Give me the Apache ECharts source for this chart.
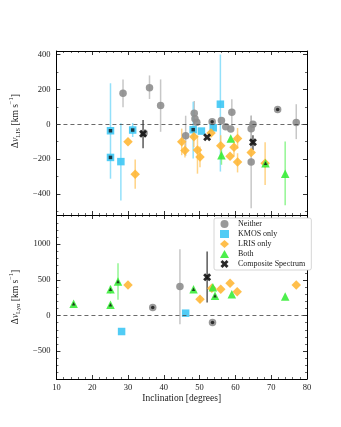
<!DOCTYPE html>
<html>
<head>
<meta charset="utf-8">
<script src="https://cdn.jsdelivr.net/npm/echarts@6/dist/echarts.min.js"></script>
<style>
  html, body { margin: 0; padding: 0; background: #fff; }
  #chart { width: 341px; height: 427px; }
</style>
</head>
<body>
<div id="chart"></div>
<script>
// each point: [inclination, dv, error down, error up, inner dot]
const topNeither = [
    [28.6, 178, 80, 78, 0], [36.0, 210, 65, 70, 0], [39.1, 107, 150, 150, 0],
    [34.5, -50, 0, 0, 0], [46.1, -66, 115, 115, 0], [48.5, 63, 70, 70, 0],
    [48.7, 31, 0, 0, 0], [49.2, 11, 0, 0, 0], [53.5, 15, 0, 0, 1],
    [56.1, 22, 0, 0, 0], [57.3, -14, 0, 0, 0], [58.7, -27, 0, 0, 0],
    [59.0, 69, 80, 75, 0], [64.9, 0, 0, 0, 0], [64.4, -25, 75, 75, 0],
    [64.4, -216, 265, 265, 0], [71.8, 84, 0, 0, 1], [77.0, 10, 95, 105, 0]
];
const topKmos = [
    [25.1, -37, 275, 272, 1], [25.1, -190, 0, 0, 1], [28.0, -214, 223, 220, 0],
    [31.3, -33, 40, 40, 1], [48.2, -31, 165, 160, 1], [50.5, -39, 0, 0, 0],
    [53.8, -20, 15, 15, 0], [55.8, 115, 386, 285, 0]
];
const topLris = [
    [30.0, -100, 0, 0, 0], [32.0, -287, 82, 85, 0], [45.0, -100, 77, 75, 0],
    [45.9, -150, 40, 40, 0], [48.4, -71, 60, 60, 0], [49.4, -148, 135, 85, 0],
    [50.1, -187, 60, 60, 0], [53.2, -50, 0, 0, 0], [55.9, -123, 70, 60, 0],
    [58.5, -183, 0, 0, 0], [59.6, -132, 50, 50, 0], [60.6, -81, 60, 60, 0],
    [60.6, -216, 60, 50, 0], [64.4, -162, 0, 0, 0], [68.3, -223, 125, 120, 0]
];
const topBoth = [
    [56.1, -177, 55, 40, 0], [58.7, -81, 0, 0, 0], [68.4, -223, 0, 0, 1],
    [73.9, -284, 180, 185, 0]
];
const topComp = [
    [34.2, -55, 83, 80, 0], [52.1, -75, 0, 0, 0], [64.9, -103, 45, 40, 0]
];

const botNeither = [
    [36.9, 112, 0, 0, 1], [44.5, 407, 528, 523, 0], [53.6, -98, 0, 0, 1]
];
const botKmos = [
    [28.2, -224, 0, 0, 0], [46.1, 33, 0, 0, 0]
];
const botLris = [
    [30.0, 430, 0, 0, 0], [50.1, 229, 50, 50, 0], [53.4, 383, 0, 0, 0],
    [55.9, 369, 0, 0, 0], [58.5, 453, 0, 0, 0], [60.5, 332, 0, 0, 0],
    [77.0, 430, 0, 0, 0]
];
const botBoth = [
    [14.8, 164, 0, 0, 1], [25.1, 369, 60, 50, 1], [25.1, 150, 0, 0, 1],
    [27.2, 477, 257, 257, 1], [48.3, 369, 0, 0, 1], [53.7, 397, 0, 0, 0],
    [54.3, 276, 0, 0, 1], [59.0, 299, 0, 0, 0], [73.9, 266, 0, 0, 0]
];
const botComp = [
    [52.1, 537, 355, 360, 0]
];

const xTicks = [10, 20, 30, 40, 50, 60, 70, 80];
const xMinor = [12, 14, 16, 18, 22, 24, 26, 28, 32, 34, 36, 38, 42, 44, 46, 48,
    52, 54, 56, 58, 62, 64, 66, 68, 72, 74, 76, 78];
const topTicks = [-400, -200, 0, 200, 400];
const topMinor = [-500, -300, -100, 100, 300];
const botTicks = [-500, 0, 500, 1000];
const botMinor = [-800, -700, -600, -400, -300, -200, -100, 100, 200, 300, 400,
    600, 700, 800, 900, 1100, 1200, 1300, 1400];

const FONT = 'Liberation Serif';
const XPATH = 'path://M0,2.5L2.5,0L5,2.5L7.5,0L10,2.5L7.5,5L10,7.5L7.5,10L5,7.5L2.5,10L0,7.5L2.5,5Z';

const groups = [
    { name: 'Neither', symbol: 'circle', size: 7.5, color: '#8e8e8e', err: '#b4b4b4' },
    { name: 'KMOS only', symbol: 'rect', size: 7.5, color: '#3ec6f4', err: '#6fd6f8' },
    { name: 'LRIS only', symbol: 'diamond', size: 9.5, color: '#ffb838', err: '#ffc45c' },
    { name: 'Both', symbol: 'triangle', size: 8.5, color: '#3aed3a', err: '#6ff26f' },
    { name: 'Composite Spectrum', symbol: XPATH, size: 8, color: '#111111', err: '#222222' }
];

const minus = v => (v < 0 ? '\u2212' + (-v) : String(v));

function axisPair(dim, grid, pos, min, max, major, minor, labels, name) {
    const base = {
        type: 'value', gridIndex: grid, position: pos, min: min, max: max,
        splitLine: { show: false }
    };
    const main = Object.assign({}, base, {
        axisLine: { show: true, onZero: false, lineStyle: { color: '#000', width: 1 } },
        axisTick: { show: true, inside: true, length: 4, customValues: major,
            lineStyle: { color: '#000', width: 0.8 } },
        axisLabel: labels
            ? { show: true, customValues: major, formatter: minus, fontFamily: FONT,
                fontSize: 8.5, color: '#1a1a1a', margin: dim === 'y' ? 6 : 4 }
            : { show: false }
    });
    if (name) Object.assign(main, name);
    const small = Object.assign({}, base, {
        axisLine: { show: false, onZero: false },
        axisTick: { show: true, inside: true, length: 2, customValues: minor,
            lineStyle: { color: '#000', width: 0.6 } },
        axisLabel: { show: false }
    });
    return [main, small];
}

const nameRich = {
    n: { fontFamily: FONT, fontSize: 9.5, color: '#1a1a1a', lineHeight: 14 },
    i: { fontFamily: FONT, fontSize: 9.5, fontStyle: 'italic', color: '#1a1a1a', lineHeight: 14 },
    s: { fontFamily: FONT, fontSize: 6.5, color: '#1a1a1a', verticalAlign: 'bottom' },
    p: { fontFamily: FONT, fontSize: 6.5, color: '#1a1a1a', verticalAlign: 'top' }
};

const TOP = [-520, 420];
const BOT = [-890, 1410];

const xAxes = [
    ...axisPair('x', 0, 'bottom', 10, 80, xTicks, xMinor, false),
    ...axisPair('x', 0, 'top', 10, 80, xTicks, xMinor, false),
    ...axisPair('x', 1, 'bottom', 10, 80, xTicks, xMinor, true, {
        name: 'Inclination [degrees]', nameLocation: 'middle', nameGap: 14,
        nameTextStyle: { fontFamily: FONT, fontSize: 9.5, color: '#1a1a1a' }
    }),
    ...axisPair('x', 1, 'top', 10, 80, xTicks, xMinor, false)
];
const yAxes = [
    ...axisPair('y', 0, 'left', TOP[0], TOP[1], topTicks, topMinor, true, {
        name: '{n|\u0394}{i|v}{s|LIS}{n| [km s}{p|\u22121}{n|]}',
        nameLocation: 'middle', nameGap: 27,
        nameTextStyle: { rich: nameRich, padding: [0, 0, 0, 24] }
    }),
    ...axisPair('y', 0, 'right', TOP[0], TOP[1], topTicks, topMinor, false),
    ...axisPair('y', 1, 'left', BOT[0], BOT[1], botTicks, botMinor, true, {
        name: '{n|\u0394}{i|v}{s|Ly\u03b1}{n| [km s}{p|\u22121}{n|]}',
        nameLocation: 'middle', nameGap: 27,
        nameTextStyle: { rich: nameRich }
    }),
    ...axisPair('y', 1, 'right', BOT[0], BOT[1], botTicks, botMinor, false)
];

function errorBars(data, g, axis) {
    return {
        type: 'custom', coordinateSystem: 'cartesian2d',
        xAxisIndex: axis, yAxisIndex: axis, silent: true, z: 1,
        data: data.filter(d => d[2] || d[3]).map(d => [d[0], d[1] - d[2], d[1] + d[3]]),
        encode: { x: 0, y: [1, 2] },
        renderItem: (params, api) => {
            const a = api.coord([api.value(0), api.value(1)]);
            const b = api.coord([api.value(0), api.value(2)]);
            return {
                type: 'line',
                shape: { x1: a[0], y1: a[1], x2: b[0], y2: b[1] },
                style: { stroke: g.err, lineWidth: 1.5, opacity: 0.75 }
            };
        }
    };
}

function markers(data, g, axis) {
    return {
        type: 'scatter', name: g.name, xAxisIndex: axis, yAxisIndex: axis,
        symbol: g.symbol, symbolSize: g.size, z: 3,
        itemStyle: { color: g.color, opacity: 0.9 },
        data: data.map(d => [d[0], d[1]])
    };
}

function innerDots(data, g, axis) {
    return {
        type: 'scatter', xAxisIndex: axis, yAxisIndex: axis, silent: true,
        symbol: g.symbol, symbolSize: 3.5, z: 4,
        itemStyle: { color: '#111' },
        data: data.filter(d => d[4]).map(d => [d[0], d[1]])
    };
}

function zeroLine(axis) {
    return {
        type: 'line', xAxisIndex: axis, yAxisIndex: axis, data: [], silent: true,
        markLine: {
            silent: true, symbol: 'none', label: { show: false },
            lineStyle: { color: '#444', type: [4, 3], width: 0.8 },
            data: [{ yAxis: 0 }]
        }
    };
}

const panels = [
    [topNeither, topKmos, topLris, topBoth, topComp],
    [botNeither, botKmos, botLris, botBoth, botComp]
];

const series = [];
panels.forEach((sets, p) => {
    const axis = p * 4;
    series.push(zeroLine(axis));
    sets.forEach((data, k) => series.push(errorBars(data, groups[k], axis)));
    sets.forEach((data, k) => series.push(markers(data, groups[k], axis)));
    sets.forEach((data, k) => series.push(innerDots(data, groups[k], axis)));
});

const chart = echarts.init(document.getElementById('chart'));
chart.setOption({
    animation: false,
    grid: [
        { left: 43, right: 34, top: 51, height: 164 },
        { left: 43, right: 34, top: 215, height: 164 }
    ],
    xAxis: xAxes,
    yAxis: yAxes,
    legend: {
        data: groups.map(g => g.name),
        orient: 'vertical', left: 214, top: 218,
        itemWidth: 9, itemHeight: 8, itemGap: 2,
        padding: [2, 6, 2, 6],
        backgroundColor: '#fff', borderColor: '#cccccc', borderWidth: 0.8, borderRadius: 2,
        textStyle: { fontFamily: FONT, fontSize: 8, color: '#1a1a1a', padding: [0, 0, 0, 4] }
    },
    series: series
});
</script>
</body>
</html>
